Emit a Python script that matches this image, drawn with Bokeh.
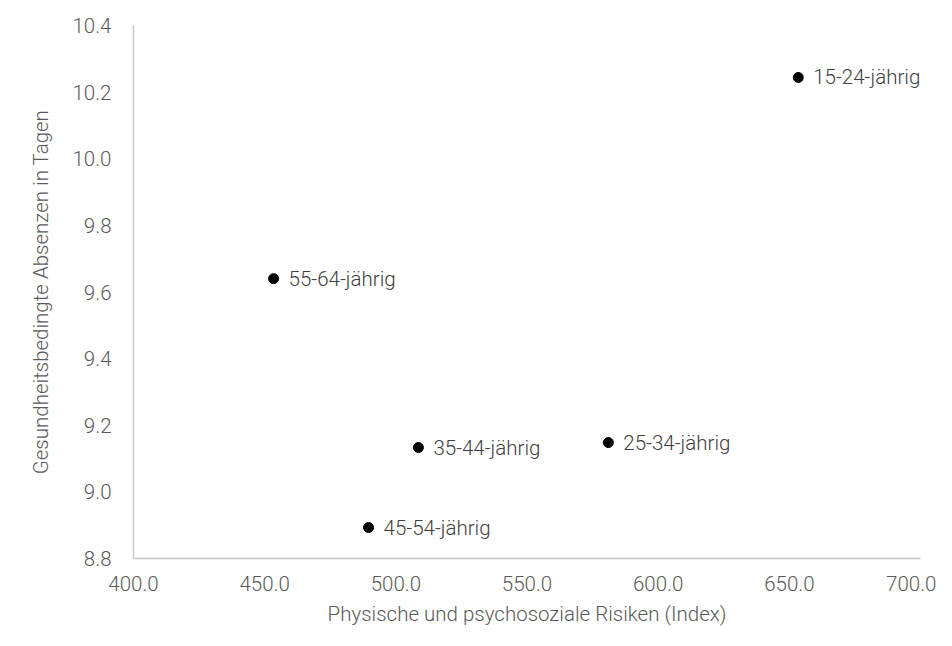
from bokeh.plotting import figure
from bokeh.models import ColumnDataSource, FixedTicker, NumeralTickFormatter, Range1d
from bokeh.core.properties import value
from bokeh.embed import file_html
from bokeh.resources import INLINE

groups = ["15-24-jährig", "25-34-jährig", "35-44-jährig", "45-54-jährig", "55-64-jährig"]
risiken = [653.4, 581.0, 508.6, 489.6, 453.4]
absenzen = [10.244, 9.148, 9.133, 8.893, 9.640]
x_ticks = [400, 450, 500, 550, 600, 650, 700]
y_ticks = [8.8, 9.0, 9.2, 9.4, 9.6, 9.8, 10.0, 10.2, 10.4]

FONT = "Roboto Light, Roboto"
GREY = "#595959"
FS = "20.5px"

src = ColumnDataSource(dict(x=risiken, y=absenzen, label=groups))

p = figure(width=936, height=630, output_backend="svg", toolbar_location=None,
           x_range=Range1d(400, 700), y_range=Range1d(8.8, 10.4),
           min_border_left=133, min_border_right=16, min_border_top=25, min_border_bottom=72)
p.outline_line_color = None
p.xgrid.visible = False
p.ygrid.visible = False

p.scatter("x", "y", source=src, size=10, color="black")
p.text("x", "y", text="label", source=src, x_offset=15, text_baseline="middle",
       text_font=value(FONT), text_font_size=FS, text_color="#404040")

for ax in (p.xaxis[0], p.yaxis[0]):
    ax.major_tick_line_color = None
    ax.minor_tick_line_color = None
    ax.axis_line_color = "#C8C8C8"
    ax.axis_line_width = 1.5
    ax.major_label_text_font = FONT
    ax.major_label_text_font_size = FS
    ax.major_label_text_color = GREY
    ax.axis_label_text_font = FONT
    ax.axis_label_text_font_size = FS
    ax.axis_label_text_font_style = "normal"
    ax.axis_label_text_color = GREY

p.xaxis.ticker = FixedTicker(ticks=x_ticks)
p.yaxis.ticker = FixedTicker(ticks=y_ticks)
p.xaxis.formatter = NumeralTickFormatter(format="0.0")
p.yaxis.formatter = NumeralTickFormatter(format="0.0")
p.xaxis.major_label_standoff = 11
p.yaxis.major_label_standoff = 16
p.xaxis.axis_label = "Physische und psychosoziale Risiken (Index)"
p.yaxis.axis_label = "Gesundheitsbedingte Absenzen in Tagen"
p.xaxis.axis_label_standoff = 8
p.yaxis.axis_label_standoff = 16

open("out.html", "w").write(file_html(p, INLINE))
